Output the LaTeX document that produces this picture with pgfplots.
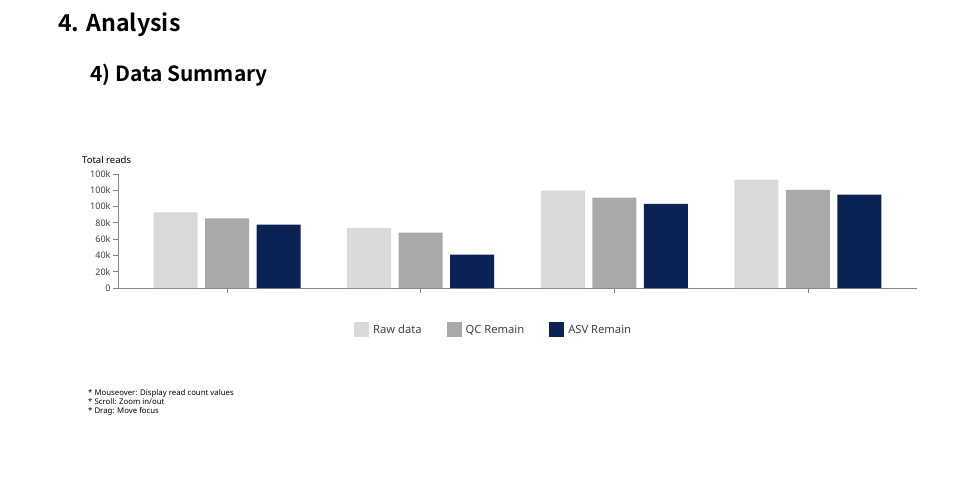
\documentclass[border=0pt]{standalone}
\usepackage{fontspec}
\setmainfont{Noto Sans}
\IfFontExistsTF{Noto Sans CJK KR Bold}{\newfontfamily\titlefont{Noto Sans CJK KR Bold}}{\newfontfamily\titlefont{DejaVu Sans Bold}}
\usepackage{pgfplots}
\pgfplotsset{compat=1.18}
\definecolor{rawc}{HTML}{D9D9D9}
\definecolor{qcc}{HTML}{A9A9A9}
\definecolor{asvc}{HTML}{0B2255}
\definecolor{axc}{HTML}{858585}
\definecolor{lblc}{HTML}{404040}
\begin{document}
\begin{tikzpicture}[x=1pt,y=1pt]
\useasboundingbox (0,0) rectangle (957,-492);
\node[anchor=base west, inner sep=0, font=\titlefont\fontsize{23.2}{27}\selectfont] at (58,-32) {4. Analysis};
\node[anchor=base west, inner sep=0, font=\titlefont\fontsize{20.9}{25}\selectfont] at (90,-82) {4) Data Summary};
\node[anchor=base west, inner sep=0, font=\fontsize{9.5}{11}\selectfont, text=black] at (82,-163) {Total reads};
\begin{axis}[
  at={(118pt,-288pt)}, anchor=south west,
  scale only axis, width=799pt, height=114pt,
  xmin=-0.563, xmax=3.563, ymin=0, ymax=140000,
  scaled y ticks=false,
  axis x line*=bottom, axis y line*=left,
  axis line style={axc, line width=0.8pt},
  every tick/.style={axc, line width=0.8pt},
  tick align=outside, major tick length=5pt,
  xtick={0,1,2,3}, xticklabels={},
  ytick={0,20000,40000,60000,80000,100000,120000,140000},
  yticklabels={0,20k,40k,60k,80k,100k,100k,100k},
  y tick label style={font=\fontsize{9}{10}\selectfont, text=lblc, xshift=1pt},
  ybar, bar width=44pt,
  legend columns=3,
  legend style={draw=none, fill=none, inner sep=0pt, at={(0.2954,-0.368)}, anchor=west,
    font=\fontsize{11.2}{13}\selectfont, text=lblc,
    /tikz/every odd column/.append style={column sep=2pt},
    /tikz/every even column/.append style={column sep=23pt}},
  legend image code/.code={\fill[#1,draw=none] (0pt,-7.5pt) rectangle (15pt,7.5pt);},
  legend cell align=left,
]
\addplot[fill=rawc, draw=none, bar shift=-51.5pt] coordinates {(0,92900) (1,73700) (2,119500) (3,133000)};
\addplot[fill=qcc, draw=none, bar shift=0pt] coordinates {(0,85500) (1,67900) (2,110900) (3,120400)};
\addplot[fill=asvc, draw=none, bar shift=51.5pt] coordinates {(0,77800) (1,40900) (2,103200) (3,114600)};
\legend{Raw data, QC Remain, ASV Remain}
\end{axis}
\node[anchor=north west, inner sep=0, align=left, font=\fontsize{7.8}{9}\selectfont, text=black] at (88,-389) {* Mouseover: Display read count values\\* Scroll: Zoom in/out\\* Drag: Move focus};
\end{tikzpicture}
\end{document}
